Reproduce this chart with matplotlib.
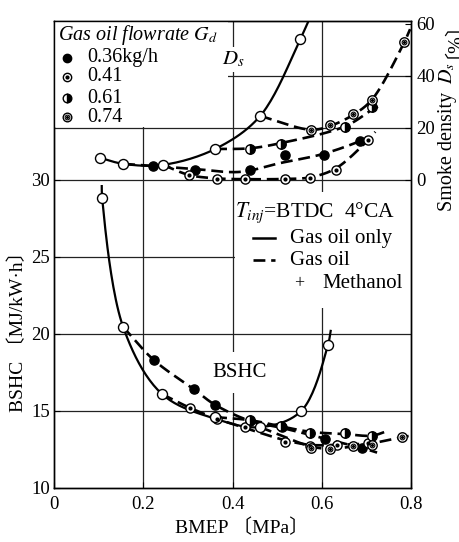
import matplotlib
matplotlib.use("Agg")
import matplotlib.pyplot as plt
from matplotlib.patches import Rectangle
import numpy as np

plt.rcParams['font.family'] = ['Liberation Serif', 'Noto Sans CJK JP']
plt.rcParams['mathtext.fontset'] = 'stix'

# --- data -----------------------------------------------------------------
# smoke density Ds [%] (upper panel, right axis)
smk_only_x = [0.103, 0.155, 0.244, 0.361, 0.462, 0.552]
smk_only_y = [8.5, 6.2, 5.8, 11.9, 24.6, 54.2]
smk_only_line_x = [0.103, 0.155, 0.244, 0.361, 0.462, 0.552, 0.570]
smk_only_line_y = [8.5, 6.2, 5.8, 11.9, 24.6, 54.2, 61.0]

smk_036_x = [0.222, 0.316, 0.440, 0.518, 0.605, 0.686]
smk_036_y = [5.4, 3.8, 3.8, 9.6, 9.6, 15.0]
smk_036_line_x = [0.155, 0.222, 0.316, 0.417, 0.507, 0.603, 0.686, 0.702]
smk_036_line_y = [6.2, 5.4, 4.2, 3.1, 6.5, 10.0, 15.0, 16.5]

smk_041_x = [0.303, 0.365, 0.428, 0.518, 0.574, 0.632, 0.704]
smk_041_y = [1.9, 0.4, 0.4, 0.4, 0.8, 3.8, 15.4]
smk_041_line_x = [0.244, 0.303, 0.365, 0.428, 0.518, 0.574, 0.632, 0.704, 0.720]
smk_041_line_y = [5.8, 1.9, 0.6, 0.3, 0.4, 1.0, 4.5, 15.4, 18.5]

smk_061_x = [0.440, 0.509, 0.652, 0.713]
smk_061_y = [11.9, 13.8, 20.4, 28.1]
smk_061_line_x = [0.361, 0.440, 0.509, 0.652, 0.713, 0.735]
smk_061_line_y = [11.9, 12.2, 14.2, 20.6, 27.0, 29.0]

smk_074_x = [0.576, 0.619, 0.670, 0.713, 0.785]
smk_074_y = [19.2, 21.2, 25.4, 30.8, 53.0]
smk_074_line_x = [0.462, 0.576, 0.619, 0.670, 0.713, 0.785, 0.798]
smk_074_line_y = [24.6, 19.3, 20.8, 25.0, 31.0, 53.0, 58.0]

# BSHC [MJ/kW.h] (lower panel, left axis)
bshc_only_x = [0.108, 0.155, 0.242, 0.361, 0.462, 0.554, 0.614]
bshc_only_y = [28.8, 20.45, 16.1, 14.6, 13.95, 15.0, 19.3]
bshc_only_line_x = [0.107, 0.108, 0.155, 0.242, 0.361, 0.462, 0.554, 0.614, 0.620]
bshc_only_line_y = [29.6, 28.8, 20.45, 16.1, 14.5, 13.95, 15.0, 19.3, 20.2]

bshc_036_x = [0.224, 0.314, 0.361, 0.440, 0.511, 0.608, 0.690]
bshc_036_y = [18.3, 16.4, 15.4, 14.35, 13.95, 13.2, 12.6]
bshc_036_line_x = [0.155, 0.224, 0.314, 0.361, 0.440, 0.511, 0.608, 0.690, 0.724]
bshc_036_line_y = [20.45, 18.3, 16.4, 15.4, 14.35, 13.9, 13.2, 12.6, 12.3]

bshc_041_x = [0.305, 0.365, 0.428, 0.518, 0.574, 0.634, 0.704]
bshc_041_y = [15.2, 14.5, 13.95, 13.0, 12.7, 12.8, 12.9]
bshc_041_line_x = [0.242, 0.305, 0.365, 0.428, 0.518, 0.574, 0.634, 0.704, 0.720]
bshc_041_line_y = [16.1, 15.2, 14.5, 13.9, 13.1, 12.8, 12.8, 12.9, 13.0]

bshc_061_x = [0.440, 0.509, 0.574, 0.652, 0.713]
bshc_061_y = [14.4, 14.0, 13.6, 13.55, 13.4]
bshc_061_line_x = [0.361, 0.440, 0.509, 0.574, 0.652, 0.713, 0.747]
bshc_061_line_y = [14.6, 14.4, 14.0, 13.65, 13.5, 13.4, 13.7]

bshc_074_x = [0.576, 0.619, 0.670, 0.713, 0.780]
bshc_074_y = [12.6, 12.5, 12.7, 12.8, 13.3]
bshc_074_line_x = [0.462, 0.576, 0.619, 0.670, 0.713, 0.780, 0.800]
bshc_074_line_y = [13.95, 12.7, 12.55, 12.7, 12.9, 13.3, 13.4]

flow_labels = ['0.36kg/h', '0.41', '0.61', '0.74']
x_ticks = [0, 0.2, 0.4, 0.6, 0.8]
x_tick_labels = ['0', '0.2', '0.4', '0.6', '0.8']
bshc_ticks = [10, 15, 20, 25, 30]
ds_ticks = [0, 20, 40, 60]

# --- figure ----------------------------------------------------------------
fig = plt.figure(figsize=(4.59, 5.42), dpi=100)
ax = fig.add_axes([54 / 459, 54 / 542, 357 / 459, 467 / 542])
ax.set_xlim(0, 0.8)
bshc_top = 40.32
ax.set_ylim(10, bshc_top)

# Ds 0 sits on BSHC 30, 20 % of Ds = 52 px, 5 BSHC = 77 px
k = (52 / 20) / (77 / 5)
ax2 = ax.twinx()
ax2.set_ylim((10 - 30) / k, (bshc_top - 30) / k)

GRID = dict(color='#222222', lw=0.9, zorder=1)
for gx in [0.2, 0.4, 0.6]:
    ax.axvline(gx, **GRID)
for gy in [15, 20, 25, 30]:
    ax.axhline(gy, **GRID)
for gy in [20, 40]:
    ax2.axhline(gy, **GRID)

# white boxes behind the two legends
ax2.add_patch(Rectangle((0, 20.4), 0.39, 60, facecolor='white', edgecolor='none', zorder=2))
ax.add_patch(Rectangle((0.405, 21.7), 0.4, 7.5, facecolor='white', edgecolor='none', zorder=2))


def smooth(a, xs, ys, n=24):
    # centripetal Catmull-Rom drawn in pixel space
    P = a.transData.transform(np.column_stack([xs, ys]))
    P = np.vstack([2 * P[0] - P[1], P, 2 * P[-1] - P[-2]])
    out = []
    for i in range(1, len(P) - 2):
        p0, p1, p2, p3 = P[i - 1], P[i], P[i + 1], P[i + 2]
        t0 = 0.0
        t1 = t0 + max(np.linalg.norm(p1 - p0), 1e-6) ** 0.5
        t2 = t1 + max(np.linalg.norm(p2 - p1), 1e-6) ** 0.5
        t3 = t2 + max(np.linalg.norm(p3 - p2), 1e-6) ** 0.5
        t = np.linspace(t1, t2, n)[:, None]
        A1 = (t1 - t) / (t1 - t0) * p0 + (t - t0) / (t1 - t0) * p1
        A2 = (t2 - t) / (t2 - t1) * p1 + (t - t1) / (t2 - t1) * p2
        A3 = (t3 - t) / (t3 - t2) * p2 + (t - t2) / (t3 - t2) * p3
        B1 = (t2 - t) / (t2 - t0) * A1 + (t - t0) / (t2 - t0) * A2
        B2 = (t3 - t) / (t3 - t1) * A2 + (t - t1) / (t3 - t1) * A3
        C = (t2 - t) / (t2 - t1) * B1 + (t - t1) / (t2 - t1) * B2
        out.append(C)
    pts = a.transData.inverted().transform(np.vstack(out))
    return pts[:, 0], pts[:, 1]


def curve(a, xs, ys, dashed):
    sx, sy = smooth(a, xs, ys)
    if dashed:
        a.plot(sx, sy, color='black', lw=1.9, ls=(0, (4.5, 2.2)), zorder=3, clip_on=True)
    else:
        a.plot(sx, sy, color='black', lw=1.6, zorder=3, clip_on=True)


def marks(a, xs, ys, kind, ms=7.2):
    z = 4
    if kind == 'open':
        a.plot(xs, ys, 'o', ms=ms, mfc='white', mec='black', mew=1.0, zorder=z, clip_on=False)
    elif kind == 'filled':
        a.plot(xs, ys, 'o', ms=ms - 0.6, mfc='black', mec='black', zorder=z, clip_on=False)
    elif kind == 'dot':
        a.plot(xs, ys, 'o', ms=ms - 0.6, mfc='white', mec='black', mew=1.0, zorder=z, clip_on=False)
        a.plot(xs, ys, 'o', ms=2.0, mfc='black', mec='black', zorder=z + 0.1, clip_on=False)
    elif kind == 'half':
        a.plot(xs, ys, 'o', ms=ms - 0.4, fillstyle='right', mfc='black', mfcalt='white',
               mec='black', mew=1.0, zorder=z, clip_on=False)
    elif kind == 'double':
        a.plot(xs, ys, 'o', ms=ms - 0.4, mfc='white', mec='black', mew=1.0, zorder=z, clip_on=False)
        a.plot(xs, ys, 'o', ms=3.4, mfc='white', mec='black', mew=0.8, zorder=z + 0.1, clip_on=False)
        a.plot(xs, ys, 'o', ms=1.2, mfc='black', mec='black', zorder=z + 0.2, clip_on=False)


# smoke density curves
curve(ax2, smk_036_line_x, smk_036_line_y, True)
curve(ax2, smk_041_line_x, smk_041_line_y, True)
curve(ax2, smk_061_line_x, smk_061_line_y, True)
curve(ax2, smk_074_line_x, smk_074_line_y, True)
curve(ax2, smk_only_line_x, smk_only_line_y, False)
marks(ax2, smk_036_x, smk_036_y, 'filled')
marks(ax2, smk_041_x, smk_041_y, 'dot')
marks(ax2, smk_061_x, smk_061_y, 'half')
marks(ax2, smk_074_x, smk_074_y, 'double')
marks(ax2, smk_only_x, smk_only_y, 'open')

# BSHC curves
curve(ax, bshc_036_line_x, bshc_036_line_y, True)
curve(ax, bshc_041_line_x, bshc_041_line_y, True)
curve(ax, bshc_061_line_x, bshc_061_line_y, True)
curve(ax, bshc_074_line_x, bshc_074_line_y, True)
curve(ax, bshc_only_line_x, bshc_only_line_y, False)
marks(ax, bshc_036_x, bshc_036_y, 'filled')
marks(ax, bshc_041_x, bshc_041_y, 'dot')
marks(ax, bshc_061_x, bshc_061_y, 'half')
marks(ax, bshc_074_x, bshc_074_y, 'double')
marks(ax, bshc_only_x, bshc_only_y, 'open')

# flowrate legend (top left)
ax2.text(0.008, 55.8, 'Gas oil flowrate $G_d$', fontsize=14.5, style='italic',
         va='center', ha='left', zorder=5)
legend_y = [46.9, 39.6, 31.5, 24.2]
for kind, lab, ly in zip(['filled', 'dot', 'half', 'double'], flow_labels, legend_y):
    marks(ax2, [0.029], [ly], kind, ms=6.6)
    ax2.text(0.074, ly, lab, fontsize=14.5, va='center', ha='left', zorder=5)
ax2.text(0.401, 46.2, '$D_s$', fontsize=15, va='center', ha='center', zorder=5,
         bbox=dict(facecolor='white', edgecolor='none', pad=2))

# line-style legend (middle right)
ax.text(0.406, 27.86, '$T_{inj}$=BTDC  4°CA', fontsize=15.5, va='center', ha='left', zorder=5)
ax.plot([0.446, 0.496], [26.23, 26.23], color='black', lw=1.8, zorder=5)
ax.text(0.529, 26.23, 'Gas oil only', fontsize=15, va='center', ha='left', zorder=5)
ax.plot([0.446, 0.496], [24.8, 24.8], color='black', lw=1.9, ls=(0, (4.5, 2.2)), zorder=5)
ax.text(0.529, 24.8, 'Gas oil', fontsize=15, va='center', ha='left', zorder=5)
ax.text(0.549, 23.3, '+', fontsize=13, va='center', ha='center', zorder=5)
ax.text(0.601, 23.3, 'Methanol', fontsize=15, va='center', ha='left', zorder=5)

ax.text(0.415, 17.5, 'BSHC', fontsize=15, va='center', ha='center', zorder=5,
        bbox=dict(facecolor='white', edgecolor='none', pad=8))

# axes and ticks
ax.set_xticks(x_ticks)
ax.set_xticklabels(x_tick_labels)
ax.set_yticks(bshc_ticks)
ax2.set_yticks(ds_ticks)
ax.tick_params(direction='in', length=4, labelsize=13.5, pad=3)
ax.tick_params(axis='x', pad=6)
ax2.tick_params(direction='in', length=4, labelsize=13.5, pad=4)
for a in (ax, ax2):
    for s in a.spines.values():
        s.set_linewidth(1.0)

ax.set_xlabel('BMEP 〔MPa〕', fontsize=14)
ax.xaxis.set_label_coords(0.527, -0.066)
ax.set_ylabel('BSHC 〔MJ/kW·h〕', fontsize=14)
ax.yaxis.set_label_coords(-0.076, 0.345)

# right axis label, built from pieces so the bracket font can fall back
renderer = fig.canvas.get_renderer()
pieces = ['Smoke density', '$D_s$', '〔%〕']
gaps = [8, 4, 0]
label_texts = [fig.text(0, 0, p, rotation=90, rotation_mode='anchor', ha='left',
                        va='baseline', fontsize=14.5) for p in pieces]
lengths = [t.get_window_extent(renderer).height for t in label_texts]
total = sum(lengths) + sum(gaps)
ypos = (542 - 106) - total / 2
for t, ln, g in zip(label_texts, lengths, gaps):
    t.set_position((452 / 459, ypos / 542))
    ypos += ln + g
# the CJK brackets sit lower on the baseline, nudge that piece in
label_texts[2].set_position((449 / 459, label_texts[2].get_position()[1]))

fig.savefig('out.png', dpi=100)
